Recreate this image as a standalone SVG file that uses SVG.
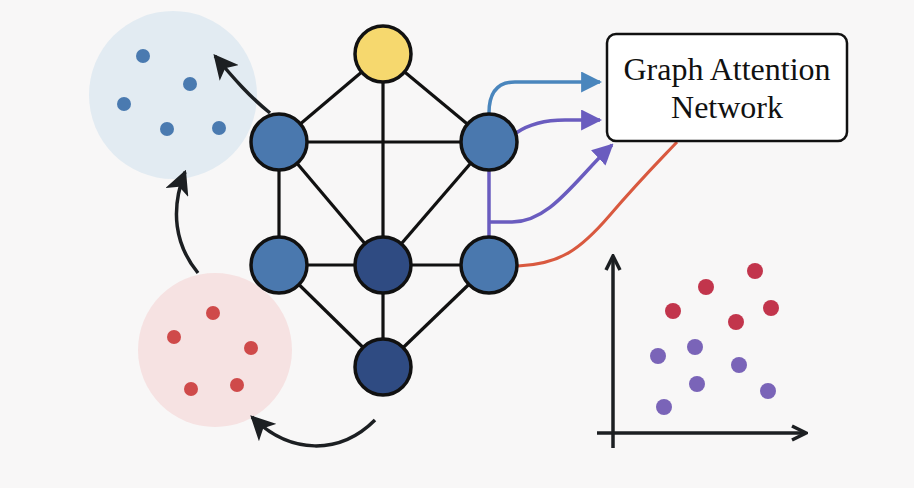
<svg xmlns="http://www.w3.org/2000/svg" width="914" height="488" viewBox="0 0 914 488">
<defs>
<marker id="ah-black" viewBox="0 0 10 10" refX="9" refY="5" markerWidth="7" markerHeight="7" markerUnits="strokeWidth" orient="auto"><path d="M0,0 L10,5 L0,10 L2.5,5 z" fill="#1c1f22"/></marker>
<marker id="ah-blue" viewBox="0 0 10 10" refX="9" refY="5" markerWidth="6" markerHeight="6" markerUnits="strokeWidth" orient="auto"><path d="M0,0 L10,5 L0,10 z" fill="#4a86bd"/></marker>
<marker id="ah-purple" viewBox="0 0 10 10" refX="9" refY="5" markerWidth="6" markerHeight="6" markerUnits="strokeWidth" orient="auto"><path d="M0,0 L10,5 L0,10 z" fill="#6a5cbf"/></marker>
<marker id="ah-axis" viewBox="0 0 10 10" refX="9" refY="5" markerWidth="5" markerHeight="5" markerUnits="strokeWidth" orient="auto"><path d="M1,1 L9,5 L1,9" fill="none" stroke="#1c1f22" stroke-width="2"/></marker>
</defs>
<style>
.edge{stroke:#111;stroke-width:3.2;fill:none}
.node{stroke:#111;stroke-width:3.5}
.lb{fill:#4a78ae}
.db{fill:#2f4b82}
.bdot{fill:#4a7ab0}
.rdot{fill:#cf4a4a}
.sred{fill:#c2354c}
.spur{fill:#7a64b8}
.flow{fill:none;stroke:#1c1f22;stroke-width:3.5}
.title{font-family:"Liberation Serif","Times New Roman",serif;font-size:32px;fill:#111;text-anchor:middle}
</style>
<rect width="914" height="488" fill="#f8f7f7"/>

<g id="blue-cluster">
<circle cx="173" cy="95" r="84" fill="#e2ebf2"/>
<circle class="bdot" cx="143" cy="56" r="7"/>
<circle class="bdot" cx="190" cy="84" r="7"/>
<circle class="bdot" cx="124" cy="104" r="7"/>
<circle class="bdot" cx="167" cy="129" r="7"/>
<circle class="bdot" cx="219" cy="128" r="7"/>
</g>
<g id="red-cluster">
<circle cx="215" cy="350" r="77" fill="#f6e2e2"/>
<circle class="rdot" cx="213" cy="313" r="7"/>
<circle class="rdot" cx="174" cy="337" r="7"/>
<circle class="rdot" cx="251" cy="348" r="7"/>
<circle class="rdot" cx="191" cy="389" r="7"/>
<circle class="rdot" cx="237" cy="385" r="7"/>
</g>

<g id="connectors">
<line class="edge" x1="383" y1="54" x2="279" y2="142"/>
<line class="edge" x1="383" y1="54" x2="489" y2="142"/>
<line class="edge" x1="383" y1="54" x2="383" y2="265"/>
<line class="edge" x1="279" y1="142" x2="489" y2="142"/>
<line class="edge" x1="279" y1="142" x2="279" y2="265"/>
<line class="edge" x1="279" y1="142" x2="383" y2="265"/>
<line class="edge" x1="489" y1="142" x2="383" y2="265"/>
<line class="edge" x1="279" y1="265" x2="489" y2="265"/>
<line class="edge" x1="279" y1="265" x2="383" y2="367"/>
<line class="edge" x1="489" y1="265" x2="383" y2="367"/>
<line class="edge" x1="383" y1="265" x2="383" y2="367"/>
<path d="M489,170 L489,237" fill="none" stroke="#6a5cbf" stroke-width="3.5"/>
<path d="M489,113 Q489,82 515,82 L600,82" fill="none" stroke="#4a86bd" stroke-width="3.5" marker-end="url(#ah-blue)"/>
<path d="M516,133 Q535,120 565,120 L600,120" fill="none" stroke="#6a5cbf" stroke-width="3.5" marker-end="url(#ah-purple)"/>
<path d="M489,222 L512,222 C550,222 575,180 612,145" fill="none" stroke="#6a5cbf" stroke-width="3.5" marker-end="url(#ah-purple)"/>
<path d="M518,266 C560,264 580,250 610,215 C640,180 660,160 677,142" fill="none" stroke="#d9593f" stroke-width="3"/>
<path class="flow" d="M270,113 C250,97 235,80 215,56" marker-end="url(#ah-black)"/>
<path class="flow" d="M198,273 C175,245 170,210 185,172" marker-end="url(#ah-black)"/>
<path class="flow" d="M375,420 C340,455 290,455 252,417" marker-end="url(#ah-black)"/>
</g>

<g id="node-yellow"><circle class="node" cx="383" cy="54" r="28" fill="#f6d86e"/></g>
<g id="node-tl"><circle class="node lb" cx="279" cy="142" r="28"/></g>
<g id="node-tr"><circle class="node lb" cx="489" cy="142" r="28"/></g>
<g id="node-ml"><circle class="node lb" cx="279" cy="265" r="28"/></g>
<g id="node-c"><circle class="node db" cx="383" cy="265" r="28"/></g>
<g id="node-mr"><circle class="node lb" cx="489" cy="265" r="28"/></g>
<g id="node-b"><circle class="node db" cx="383" cy="367" r="28"/></g>

<g id="gat-box">
<rect x="607" y="34" width="240" height="107" rx="9" fill="#fff" stroke="#111" stroke-width="2.5"/>
<text class="title" x="727" y="80">Graph Attention</text>
<text class="title" x="727" y="118">Network</text>
</g>

<g id="scatter">
<line x1="613" y1="448" x2="613" y2="256" stroke="#1c1f22" stroke-width="3.5" marker-end="url(#ah-axis)"/>
<line x1="597" y1="433" x2="806" y2="433" stroke="#1c1f22" stroke-width="3.5" marker-end="url(#ah-axis)"/>
<circle class="sred" cx="755" cy="271" r="8"/>
<circle class="sred" cx="706" cy="287" r="8"/>
<circle class="sred" cx="673" cy="311" r="8"/>
<circle class="sred" cx="771" cy="308" r="8"/>
<circle class="sred" cx="736" cy="322" r="8"/>
<circle class="spur" cx="658" cy="356" r="8"/>
<circle class="spur" cx="695" cy="347" r="8"/>
<circle class="spur" cx="739" cy="365" r="8"/>
<circle class="spur" cx="697" cy="384" r="8"/>
<circle class="spur" cx="768" cy="391" r="8"/>
<circle class="spur" cx="664" cy="407" r="8"/>
</g>
</svg>
